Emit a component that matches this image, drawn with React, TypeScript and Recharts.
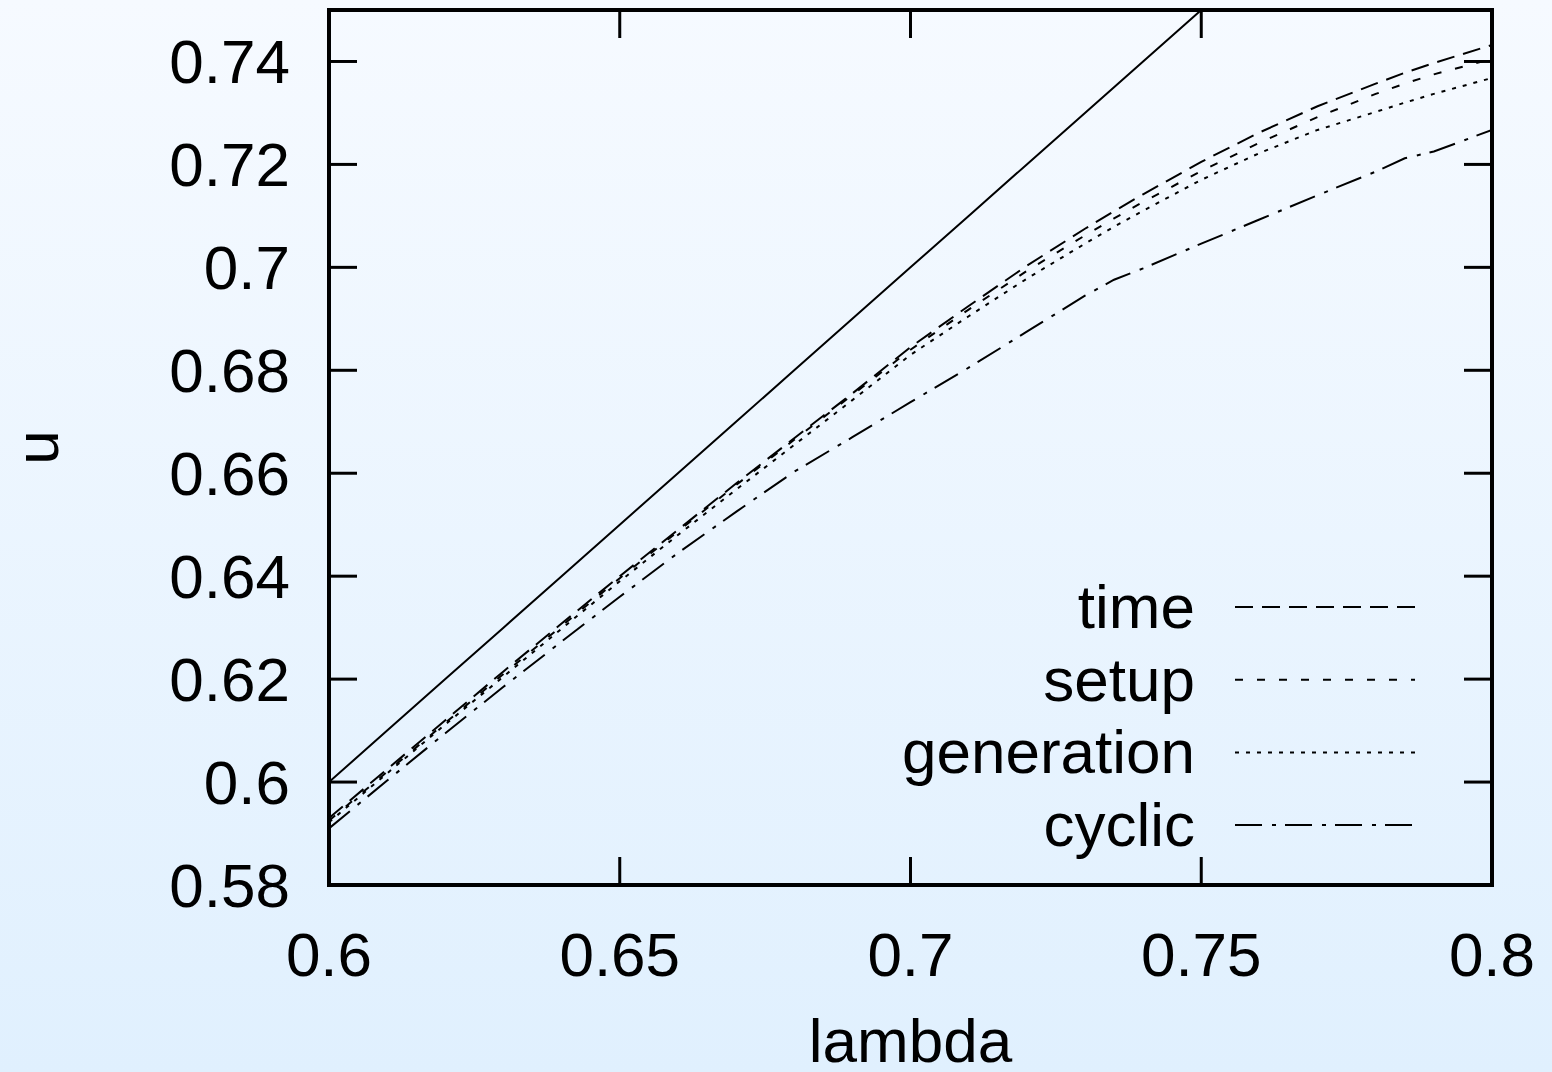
import { LineChart, Line, XAxis, YAxis, Legend, ReferenceArea } from 'recharts';

const FONT = '"Liberation Sans", Arial, Helvetica, sans-serif';

const lambdas = [0.6, 0.61, 0.62, 0.63, 0.64, 0.65, 0.66, 0.67, 0.68, 0.69, 0.7, 0.71, 0.72, 0.73, 0.735, 0.74, 0.75, 0.76, 0.77, 0.78, 0.785, 0.79, 0.8];
const ideal = [0.6, 0.61, 0.62, 0.63, 0.64, 0.65, 0.66, 0.67, 0.68, 0.69, 0.7, 0.71, 0.72, 0.73, 0.735, 0.74, 0.75, 0.76, 0.77, 0.78, 0.785, 0.79, 0.8];
const time = [0.593, 0.6025, 0.612, 0.6215, 0.6308, 0.64, 0.649, 0.658, 0.6668, 0.6755, 0.6845, 0.6925, 0.7003, 0.7075, 0.7109, 0.7142, 0.7205, 0.7262, 0.7313, 0.7357, 0.7378, 0.7397, 0.7432];
const setup = [0.5925, 0.602, 0.6115, 0.621, 0.6303, 0.6396, 0.6487, 0.6577, 0.6665, 0.6752, 0.684, 0.6918, 0.6993, 0.7062, 0.7095, 0.7127, 0.7187, 0.7242, 0.7292, 0.7337, 0.7357, 0.7375, 0.7405];
const generation = [0.5922, 0.6017, 0.6112, 0.6205, 0.6298, 0.639, 0.648, 0.6568, 0.6655, 0.6742, 0.683, 0.6905, 0.6978, 0.7046, 0.7079, 0.711, 0.717, 0.7222, 0.7267, 0.7302, 0.732, 0.7337, 0.7368];
const cyclic = [0.591, 0.6003, 0.6095, 0.6185, 0.6273, 0.636, 0.6445, 0.6525, 0.6603, 0.667, 0.6738, 0.6805, 0.6875, 0.6945, 0.6976, 0.6998, 0.7046, 0.7093, 0.714, 0.7186, 0.7212, 0.7225, 0.7267];

const xTicks = [0.6, 0.65, 0.7, 0.75, 0.8];
const yTicks = [0.58, 0.6, 0.62, 0.64, 0.66, 0.68, 0.7, 0.72, 0.74];

const legendOrder = ['time', 'setup', 'generation', 'cyclic'];

const dashes: Record<string, string> = {
	time: '18 9',
	setup: '8 14',
	generation: '4 7',
	cyclic: '27 10 4 9',
};

const data = lambdas.map((l, i) => ({
	lambda: l,
	ideal: ideal[i],
	time: time[i],
	setup: setup[i],
	generation: generation[i],
	cyclic: cyclic[i],
}));

const tickStyle = { fill: '#000', fontSize: 62, fontFamily: FONT };
const tickLineStyle = { stroke: '#000', strokeWidth: 3 };

const renderLegend = () => (
	<svg width={660} height={300} style={{ display: 'block' }}>
		{legendOrder.map((key, i) => {
			const y = 47 + i * 72.7;
			return (
				<g key={key}>
					<text x={395} y={y + 21} textAnchor="end" fontSize={62} fontFamily={FONT} fill="#000">
						{key}
					</text>
					<line x1={435} x2={615} y1={y} y2={y} stroke="#000" strokeWidth={2} strokeDasharray={dashes[key]} />
				</g>
			);
		})}
	</svg>
);

const renderYLabel = (props: any) => {
	const vb = props.viewBox;
	const cx = 36;
	const cy = vb.y + vb.height / 2;
	return (
		<text x={cx} y={cy} transform={`rotate(-90, ${cx}, ${cy})`} textAnchor="middle" dominantBaseline="central" fontSize={62} fontFamily={FONT} fill="#000">
			u
		</text>
	);
};

const App = () => {
	return (
		<div
			style={{
				position: 'absolute',
				left: 0,
				top: 0,
				width: 1552,
				height: 1072,
				background: 'linear-gradient(#f6faff, #e0f0fe)',
				fontFamily: FONT,
			}}
		>
			<LineChart width={1552} height={1072} data={data} margin={{ top: 9, right: 59, bottom: 0, left: 0 }}>
				<XAxis
					dataKey="lambda"
					type="number"
					domain={[0.6, 0.8]}
					ticks={xTicks}
					interval={0}
					allowDataOverflow
					height={187}
					axisLine={false}
					tickLine={tickLineStyle}
					tickSize={-28}
					tickMargin={75}
					tick={tickStyle}
					label={{ value: 'lambda', position: 'insideBottom', offset: 10, fill: '#000', fontSize: 62, fontFamily: FONT }}
				/>
				{/* mirrored ticks along the top edge */}
				<XAxis
					xAxisId="top"
					orientation="top"
					dataKey="lambda"
					type="number"
					domain={[0.6, 0.8]}
					ticks={xTicks}
					interval={0}
					allowDataOverflow
					height={1}
					axisLine={false}
					tickLine={tickLineStyle}
					tickSize={-28}
					tick={{ fill: 'none', fontSize: 1 }}
				/>
				<YAxis
					type="number"
					domain={[0.58, 0.75]}
					ticks={yTicks}
					interval={0}
					allowDataOverflow
					width={329}
					axisLine={false}
					tickLine={tickLineStyle}
					tickSize={-28}
					tickMargin={67}
					tick={tickStyle}
					label={{ content: renderYLabel }}
				/>
				{/* mirrored ticks along the right edge */}
				<YAxis
					yAxisId="right"
					orientation="right"
					type="number"
					domain={[0.58, 0.75]}
					ticks={yTicks}
					interval={0}
					allowDataOverflow
					width={1}
					axisLine={false}
					tickLine={tickLineStyle}
					tickSize={-28}
					tick={{ fill: 'none', fontSize: 1 }}
				/>
				<Line dataKey="ideal" name="ideal" legendType="none" type="linear" stroke="#000" strokeWidth={2} dot={false} activeDot={false} isAnimationActive={false} />
				<Line dataKey="time" name="time" type="linear" stroke="#000" strokeWidth={2} strokeDasharray={dashes.time} dot={false} activeDot={false} isAnimationActive={false} />
				<Line dataKey="setup" name="setup" type="linear" stroke="#000" strokeWidth={2} strokeDasharray={dashes.setup} dot={false} activeDot={false} isAnimationActive={false} />
				<Line dataKey="generation" name="generation" type="linear" stroke="#000" strokeWidth={2} strokeDasharray={dashes.generation} dot={false} activeDot={false} isAnimationActive={false} />
				<Line dataKey="cyclic" name="cyclic" type="linear" stroke="#000" strokeWidth={2} strokeDasharray={dashes.cyclic} dot={false} activeDot={false} isAnimationActive={false} />
				<ReferenceArea x1={0.6} x2={0.8} y1={0.58} y2={0.75} fill="none" stroke="#000" strokeWidth={4} ifOverflow="visible" />
				<Legend
					layout="horizontal"
					verticalAlign="middle"
					align="center"
					content={renderLegend}
					wrapperStyle={{ left: 800, top: 560, width: 660, height: 300 }}
				/>
			</LineChart>
		</div>
	);
};

export default App;
